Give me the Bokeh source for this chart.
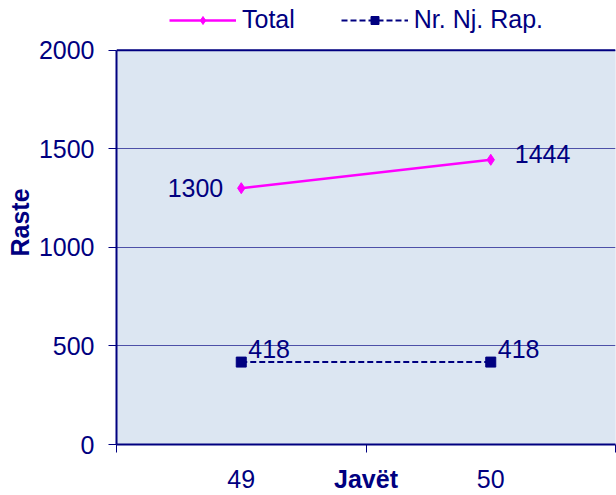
from bokeh.plotting import figure
from bokeh.models import Range1d, FixedTicker, Legend, LegendItem, Label, Span, BoxAnnotation
from bokeh.embed import file_html
from bokeh.resources import INLINE

weeks = ["49", "50"]
total = [1300, 1444]
nr_nj_rap = [418, 418]
y_ticks = [0, 500, 1000, 1500, 2000]
series_names = ["Total", "Nr. Nj. Rap."]
x_title = "Javët"
y_title = "Raste"

NAVY = "#000080"
MAGENTA = "#FF00FF"
BG = "#DCE6F2"
FONT = "Liberation Sans"
FS = "25px"

W, H = 616, 495
BOTTOM = 48
LEFT = 116
FRAME_H = H - BOTTOM          # frame starts at the top of the canvas
DATA_TOP = 50                 # pixel row where the plot area starts
y_max = y_ticks[-1]
y_top = y_max * FRAME_H / (FRAME_H - DATA_TOP)

xs = [i + 0.5 for i in range(len(weeks))]
bounds = list(range(len(weeks) + 1))

p = figure(width=W, height=H, output_backend="svg", toolbar_location=None,
           x_range=Range1d(0, len(weeks)), y_range=Range1d(0, y_top),
           min_border_left=LEFT, min_border_right=1, min_border_top=0, min_border_bottom=BOTTOM)
p.background_fill_color = "white"
p.border_fill_color = "white"
p.outline_line_color = None

# plot area background
p.add_layout(BoxAnnotation(bottom=0, top=y_max, fill_color=BG, fill_alpha=1,
                           line_color="#A7B0D6", line_width=1, level="image"))

# axes
p.xaxis.ticker = FixedTicker(ticks=xs, minor_ticks=bounds)
p.xaxis.major_label_overrides = {v: w for v, w in zip(xs, weeks)}
p.xaxis.major_tick_line_color = None
p.xaxis.major_tick_out = 0
p.xaxis.major_tick_in = 0
p.xaxis.minor_tick_line_color = NAVY
p.xaxis.minor_tick_out = 8
p.xaxis.minor_tick_in = 0
p.xaxis.major_label_standoff = 17
p.xaxis.axis_line_color = NAVY
p.xaxis.axis_line_width = 2
p.xaxis.axis_label = x_title
p.xaxis.axis_label_text_font_style = "bold"
p.xaxis.axis_label_standoff = -26

p.yaxis.ticker = FixedTicker(ticks=y_ticks)
p.yaxis.bounds = (0, y_max)
p.yaxis.major_tick_line_color = NAVY
p.yaxis.major_tick_out = 8
p.yaxis.major_tick_in = 0
p.yaxis.minor_tick_line_color = None
p.yaxis.major_label_standoff = 14
p.yaxis.axis_line_color = NAVY
p.yaxis.axis_line_width = 2
p.yaxis.axis_label = y_title
p.yaxis.axis_label_text_font_style = "bold"
p.yaxis.axis_label_standoff = 2

for ax in (p.xaxis, p.yaxis):
    ax.major_label_text_font = FONT
    ax.major_label_text_font_size = FS
    ax.major_label_text_color = NAVY
    ax.axis_label_text_font = FONT
    ax.axis_label_text_font_size = FS
    ax.axis_label_text_color = NAVY

p.xgrid.visible = False
p.ygrid.ticker = FixedTicker(ticks=y_ticks)
p.ygrid.grid_line_color = NAVY
p.ygrid.grid_line_alpha = 0.65
p.ygrid.grid_line_width = 1

p.add_layout(Span(location=y_max, dimension="width", line_color=NAVY, line_width=2))

# series
r1 = p.line(xs, total, line_color=MAGENTA, line_width=2.5)
r1m = p.scatter(xs, total, marker="diamond", size=11, color=MAGENTA)
r2 = p.line(xs, nr_nj_rap, line_color=NAVY, line_width=2, line_dash="6 3")
r2m = p.scatter(xs, nr_nj_rap, marker="square", size=10, color=NAVY)

# data labels
total_style = [dict(x_offset=-18, y_offset=0, text_align="right"),
               dict(x_offset=24, y_offset=6, text_align="left")]
for xv, yv, st in zip(xs, total, total_style):
    p.add_layout(Label(x=xv, y=yv, text=str(yv), text_font=FONT, text_font_size=FS,
                       text_color=NAVY, text_baseline="middle", **st))
for xv, yv in zip(xs, nr_nj_rap):
    p.add_layout(Label(x=xv, y=yv, text=str(yv), text_font=FONT, text_font_size=FS,
                       text_color=NAVY, text_baseline="middle", text_align="left",
                       x_offset=7, y_offset=13))

legend = Legend(items=[LegendItem(label=series_names[0], renderers=[r1, r1m]),
                       LegendItem(label=series_names[1], renderers=[r2, r2m])],
                orientation="horizontal", location=(53, FRAME_H - 37),
                border_line_color=None, background_fill_alpha=0,
                label_text_font=FONT, label_text_font_size=FS, label_text_color=NAVY,
                glyph_width=67, glyph_height=20, spacing=46, padding=0, margin=0,
                label_standoff=6)
p.add_layout(legend, "center")

open("out.html", "w").write(file_html(p, INLINE))
